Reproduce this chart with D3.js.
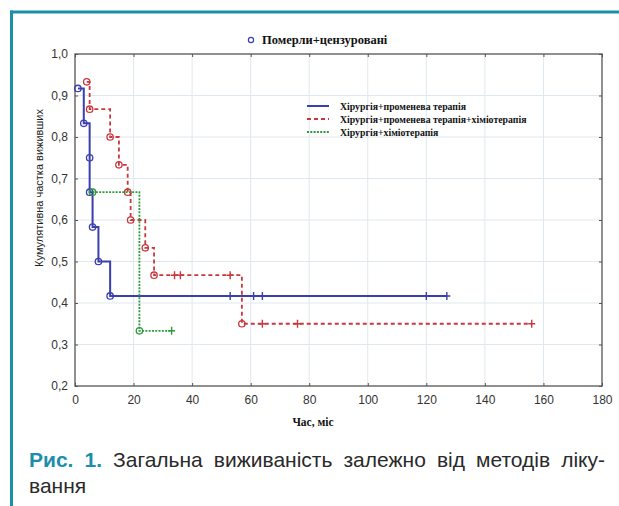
<!DOCTYPE html>
<html>
<head>
<meta charset="utf-8">
<script src="https://cdn.jsdelivr.net/npm/d3@7"></script>
<style>
  html, body { margin: 0; padding: 0; background: #fff; }
  svg { display: block; }
  .tick text { font-family: "Liberation Sans", Arial, sans-serif; font-size: 12px; fill: #333; }
  .serif-bold { font-family: "Liberation Serif", "Times New Roman", serif; font-weight: bold; fill: #111; }
</style>
</head>
<body>
<div id="chart"></div>
<script>
// Kaplan-Meier data (time in months)
const seriesNames = [
    "Хірургія+променева терапія",
    "Хірургія+променева терапія+хіміотерапія",
    "Хірургія+хіміотерапія"
];
// deaths: [time, cumulative proportion after event]
const blueDeaths = [[1, 0.917], [3, 0.833], [5, 0.75], [5, 0.667], [6, 0.583], [8, 0.5], [12, 0.417]];
const blueCensored = [53, 61, 64, 120, 127];
const redDeaths = [[4, 0.933], [5, 0.867], [12, 0.8], [15, 0.733], [18, 0.667], [19, 0.6], [24, 0.533], [27, 0.467], [57, 0.35]];
const redCensored = [34, 36, 53, 64, 76, 156];
const greenDeaths = [[6, 0.667], [22, 0.333]];
const greenCensored = [33];
const xTicks = [0, 20, 40, 60, 80, 100, 120, 140, 160, 180];
const yTicks = [0.2, 0.3, 0.4, 0.5, 0.6, 0.7, 0.8, 0.9, 1.0];

const W = 619, H = 506;
const svg = d3.select("#chart").append("svg").attr("width", W).attr("height", H);

// page frame
const teal = "#1b8fa9";
svg.append("line").attr("x1", 10).attr("x2", W).attr("y1", 12).attr("y2", 12)
    .attr("stroke", teal).attr("stroke-width", 3);
svg.append("line").attr("x1", 11.5).attr("x2", 11.5).attr("y1", 10.5).attr("y2", H)
    .attr("stroke", teal).attr("stroke-width", 3);

const plot = { left: 75, right: 602, top: 54, bottom: 386 };
const x = d3.scaleLinear().domain([0, 180]).range([plot.left, plot.right]);
const y = d3.scaleLinear().domain([0.2, 1.0]).range([plot.bottom, plot.top]);
const fmt = d => d3.format(".1f")(d).replace(".", ",");

// grid
const grid = svg.append("g").attr("stroke", "#dfe8ee").attr("stroke-width", 1);
xTicks.slice(1, -1).forEach(t => grid.append("line")
    .attr("x1", x(t)).attr("x2", x(t)).attr("y1", plot.top).attr("y2", plot.bottom));
yTicks.slice(1, -1).forEach(t => grid.append("line")
    .attr("x1", plot.left).attr("x2", plot.right).attr("y1", y(t)).attr("y2", y(t)));

// axes with inward ticks
svg.append("g").attr("transform", `translate(0,${plot.bottom})`)
    .call(d3.axisBottom(x).tickValues(xTicks).tickSize(-3).tickPadding(9))
    .call(g => g.select(".domain").remove());
svg.append("g").attr("transform", `translate(${plot.left},0)`)
    .call(d3.axisLeft(y).tickValues(yTicks).tickFormat(fmt).tickSize(-3).tickPadding(7))
    .call(g => g.select(".domain").remove());
svg.append("g").attr("transform", `translate(0,${plot.top})`)
    .call(d3.axisTop(x).tickValues(xTicks).tickSize(-3).tickFormat(""))
    .call(g => g.select(".domain").remove());
svg.append("g").attr("transform", `translate(${plot.right},0)`)
    .call(d3.axisRight(y).tickValues(yTicks).tickSize(-3).tickFormat(""))
    .call(g => g.select(".domain").remove());
svg.selectAll(".tick line").attr("stroke", "#555");
svg.append("rect").attr("x", plot.left).attr("y", plot.top)
    .attr("width", plot.right - plot.left).attr("height", plot.bottom - plot.top)
    .attr("fill", "none").attr("stroke", "#555").attr("stroke-width", 1.3);

// KM step curves
const styles = [
    { color: "#3a3fae", dash: null, width: 2 },
    { color: "#c8383c", dash: "4,3", width: 1.8 },
    { color: "#2f9a3c", dash: "2,1.3", width: 1.8 }
];
const allDeaths = [blueDeaths, redDeaths, greenDeaths];
const allCensored = [blueCensored, redCensored, greenCensored];

allDeaths.forEach((deaths, i) => {
    const censored = allCensored[i];
    const end = d3.max([deaths[deaths.length - 1][0], d3.max(censored)]);
    const pts = [];
    deaths.forEach((d, k) => {
        if (k > 0) pts.push([d[0], deaths[k - 1][1]]);
        pts.push(d);
    });
    pts.push([end, deaths[deaths.length - 1][1]]);
    const line = d3.line().x(d => x(d[0])).y(d => y(d[1]));
    const s = styles[i];
    svg.append("path").attr("d", line(pts)).attr("fill", "none")
        .attr("stroke", s.color).attr("stroke-width", s.width)
        .attr("stroke-dasharray", s.dash);

    const levelAt = t => {
        let v = deaths[0][1];
        deaths.forEach(d => { if (d[0] <= t) v = d[1]; });
        return v;
    };
    // censored marks
    censored.forEach(t => {
        const cx = x(t), cy = y(levelAt(t));
        svg.append("path").attr("d", `M${cx - 3.5},${cy}H${cx + 3.5}M${cx},${cy - 4}V${cy + 4}`)
            .attr("stroke", s.color).attr("stroke-width", 1.4);
    });
    // death marks
    deaths.forEach(d => {
        svg.append("circle").attr("cx", x(d[0])).attr("cy", y(d[1])).attr("r", 3.2)
            .attr("fill", "none").attr("stroke", s.color).attr("stroke-width", 1.3);
    });
});

// top legend
svg.append("circle").attr("cx", 251).attr("cy", 40).attr("r", 2.6)
    .attr("fill", "none").attr("stroke", "#3a3fae").attr("stroke-width", 1.2);
svg.append("text").attr("class", "serif-bold").attr("x", 262).attr("y", 44)
    .attr("font-size", 12.5).text("Померли+цензуровані");

// series legend
const legend = svg.append("g");
seriesNames.forEach((name, i) => {
    const ly = 106 + i * 13;
    const s = styles[i];
    legend.append("line").attr("x1", 307).attr("x2", 329).attr("y1", ly).attr("y2", ly)
        .attr("stroke", s.color).attr("stroke-width", s.width)
        .attr("stroke-dasharray", s.dash);
    legend.append("text").attr("class", "serif-bold").attr("x", 340).attr("y", ly + 3.5)
        .attr("font-size", 9.8).text(name);
});

// axis titles
svg.append("text").attr("class", "serif-bold").attr("x", 313).attr("y", 426)
    .attr("text-anchor", "middle").attr("font-size", 11.5).text("Час, міс");
svg.append("text")
    .attr("transform", `translate(43,188) rotate(-90)`)
    .attr("text-anchor", "middle")
    .attr("font-family", "'Liberation Sans', Arial, sans-serif")
    .attr("font-size", 11).attr("fill", "#222")
    .text("Кумулятивна частка виживших");

// caption (first line justified between x=29 and x=605)
const capFont = "'Liberation Sans', Arial, sans-serif";
const cap = svg.append("text").attr("x", 29).attr("y", 467)
    .attr("font-family", capFont).attr("font-size", 21);
cap.append("tspan").attr("font-weight", "bold").attr("fill", teal).text("Рис. 1.");
cap.append("tspan").attr("fill", "#2a2a2a").text(" Загальна виживаність залежно від методів ліку-");
const natural = cap.node().getComputedTextLength();
const gaps = 7;
cap.attr("word-spacing", Math.max(0, (605 - 29 - natural) / gaps));
svg.append("text").attr("x", 29).attr("y", 493)
    .attr("font-family", capFont).attr("font-size", 21)
    .attr("fill", "#2a2a2a").text("вання");
</script>
</body>
</html>
